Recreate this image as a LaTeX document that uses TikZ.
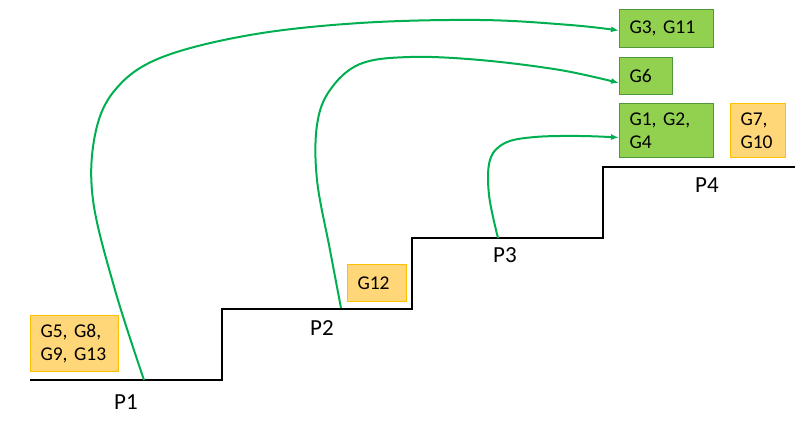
\documentclass[tikz,border=0pt]{standalone}
\usepackage{fontspec}
\setmainfont{Carlito}
\usetikzlibrary{arrows.meta}
\definecolor{gfill}{RGB}{146,208,80}
\definecolor{gdraw}{RGB}{80,150,60}
\definecolor{ofill}{RGB}{255,214,120}
\definecolor{odraw}{RGB}{255,192,0}
\definecolor{arr}{RGB}{0,176,80}
\tikzset{
  gbox/.style={draw=gdraw, fill=gfill, line width=1pt, anchor=north west, inner xsep=10pt, inner ysep=0pt, align=left, font=\fontsize{19.5}{23.5}\selectfont},
  obox/.style={draw=odraw, fill=ofill, line width=1pt, anchor=north west, inner xsep=10pt, inner ysep=0pt, align=left, font=\fontsize{19.5}{23.5}\selectfont},
  plabel/.style={font=\fontsize{23}{28}\selectfont},
  stair/.style={line width=1.5pt, black},
  link/.style={arr, line width=2pt, -{Latex[length=8pt,width=6pt]}}
}
\begin{document}
\begin{tikzpicture}[x=1pt,y=-1pt]
\useasboundingbox (0,0) rectangle (808,425);
% boxes
\node[gbox, text width=74pt, minimum height=38pt] (g311) at (619,9) {G3, G11};
\node[gbox, text width=33pt, minimum height=37pt] (g6) at (619,57) {G6};
\node[gbox, text width=74pt, minimum height=54pt] (g124) at (619,103) {G1, G2,\\G4};
\node[obox, text width=35pt, minimum height=54pt] (g710) at (730,103) {G7,\\G10};
\node[obox, text width=39pt, minimum height=37pt] (g12) at (347,264) {G12};
\node[obox, text width=68pt, minimum height=56pt] (g5) at (30,315) {G5, G8,\\G9, G13};
% stairs
\draw[stair] (30,380) -- (222,380) -- (222,309) -- (412,309) -- (412,238) -- (603,238) -- (603,167) -- (795,167);
% labels
\node[plabel] (p1) at (126,402) {P1};
\node[plabel] (p2) at (322,328) {P2};
\node[plabel] (p3) at (505,255) {P3};
\node[plabel] (p4) at (707,185) {P4};
% start points on stairs
\coordinate (s1) at (144,380);
\coordinate (s2) at (341,308);
\coordinate (s3) at (498,238);
% connectors
\draw[link] plot[smooth, tension=0.6] coordinates {(s1) (115,290) (93,200) (95,135) (115,90) (160,58) (250,35) (360,23) (480,20) (570,25) ([yshift=-2pt]g311.west)};
\draw[link] plot[smooth, tension=0.6] coordinates {(s2) (330,250) (317,180) (317,125) (330,90) (360,64) (410,57) (480,60) (560,70) ([yshift=-7pt]g6.west)};
\draw[link] plot[smooth, tension=0.6] coordinates {(s3) (489,195) (490,160) (505,143) (535,137) (580,136) ([yshift=-7pt]g124.west)};
\end{tikzpicture}
\end{document}
